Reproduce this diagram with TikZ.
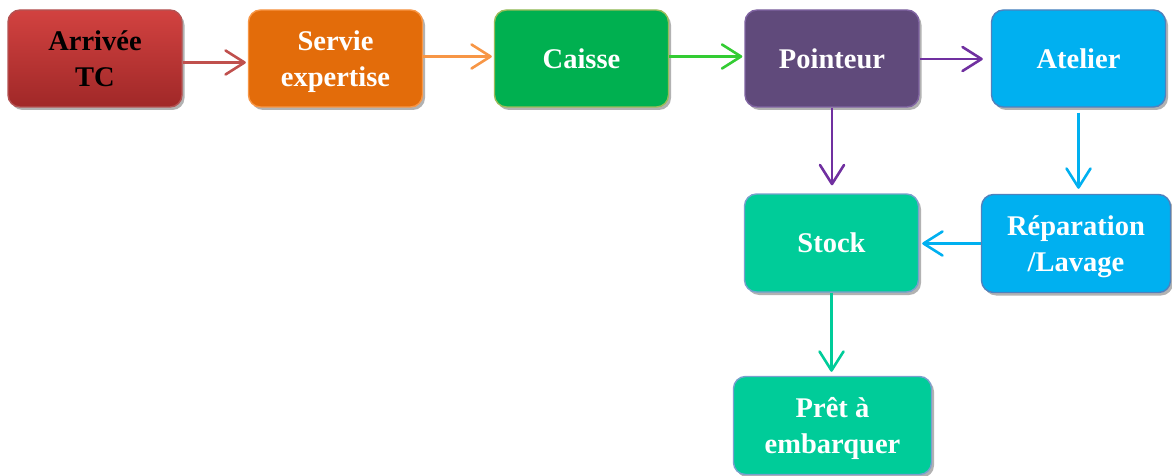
\documentclass[tikz,border=0pt]{standalone}
\usepackage{fontspec}
\setmainfont{Liberation Serif}
\usetikzlibrary{arrows.meta,shadows}

% box fills and borders
\definecolor{redtop}{RGB}{210,66,64}
\definecolor{redbot}{RGB}{160,40,40}
\definecolor{orfill}{RGB}{227,108,10}
\definecolor{orline}{RGB}{247,150,70}
\definecolor{grfill}{RGB}{0,176,80}
\definecolor{grline}{RGB}{155,187,89}
\definecolor{pufill}{RGB}{96,74,123}
\definecolor{puline}{RGB}{128,100,162}
\definecolor{blfill}{RGB}{0,176,240}
\definecolor{blline}{RGB}{79,129,189}
\definecolor{tefill}{RGB}{0,204,153}
\definecolor{teline}{RGB}{120,160,205}
% connector colours
\definecolor{redarrow}{RGB}{192,80,77}
\definecolor{orarrow}{RGB}{247,150,70}
\definecolor{grarrow}{RGB}{51,204,51}
\definecolor{puarrow}{RGB}{112,48,160}
\definecolor{blarrow}{RGB}{0,176,240}
\definecolor{tearrow}{RGB}{0,204,153}

% taller first line, nudging two-line labels a little lower
\newcommand{\toppad}{\rule{0pt}{26pt}}

\begin{document}
\begin{tikzpicture}[x=1pt,y=-1pt,
  box/.style={rounded corners=12pt, line width=1.4pt, align=center,
    text=white, font=\bfseries\fontsize{28.5}{36}\selectfont,
    minimum width=174pt, minimum height=97pt, inner sep=2pt,
    drop shadow={shadow xshift=2.5pt, shadow yshift=-3pt, fill=black, opacity=0.3}},
  flow/.style={line width=2.4pt,
    -{Straight Barb[length=19pt,width=24pt,line width=2.6pt,round]}}]
\useasboundingbox (0,0) rectangle (1172,476);

% process steps
\node[box, top color=redtop, bottom color=redbot, draw=redbot!80!white, text=black]
  (arr) at (95,58.5) {Arrivée\\TC};
\node[box, fill=orfill, draw=orline] (serv) at (335.5,58.5) {\toppad Servie\\expertise};
\node[box, fill=grfill, draw=grline] (caisse) at (581.5,58.5) {Caisse};
\node[box, fill=pufill, draw=puline] (poin) at (832,58.5) {Pointeur};
\node[box, fill=blfill, draw=blline] (atel) at (1078.5,58.5) {Atelier};
\node[box, fill=tefill, draw=teline, minimum height=98pt] (stock) at (831.5,243) {Stock};
\node[box, fill=blfill, draw=blline, minimum width=189pt, minimum height=98pt]
  (rep) at (1076,243.5) {\toppad Réparation\\/Lavage};
\node[box, fill=tefill, draw=teline, minimum width=198pt, minimum height=98pt]
  (pret) at (832.5,425.5) {\toppad Prêt à\\embarquer};

% connectors
\draw[flow, redarrow, shorten >=2pt] ([yshift=-4pt]arr.east) -- ([yshift=-4pt]serv.west);
\draw[flow, orarrow, shorten >=2pt] ([yshift=2pt]serv.east) -- ([yshift=2pt]caisse.west);
\draw[flow, grarrow, shorten >=2pt] ([yshift=2pt]caisse.east) -- ([yshift=2pt]poin.west);
\draw[flow, puarrow, shorten >=8pt] ([yshift=-0.5pt]poin.east) -- ([yshift=-0.5pt]atel.west);
\draw[flow, puarrow, shorten >=8pt] (poin.south) -- (poin.south |- stock.north);
\draw[flow, blarrow, shorten <=5pt, shorten >=5pt] (atel.south) -- (atel.south |- rep.north);
\draw[flow, blarrow, shorten >=3pt] (rep.west) -- (rep.west -| stock.east);
\draw[flow, tearrow, shorten >=4pt] (stock.south) -- (stock.south |- pret.north);
\end{tikzpicture}
\end{document}
